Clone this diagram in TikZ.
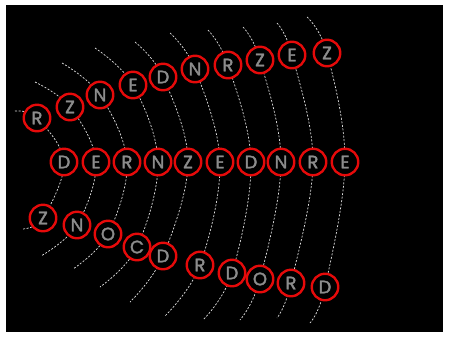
\documentclass[tikz,border=0pt]{standalone}
\usepackage{fontspec}
\newfontfamily\lettfont{Poppins}[FakeBold=2]
\pgfdeclarelayer{back}
\pgfdeclarelayer{bg}
\pgfsetlayers{back,bg,main}
\tikzset{
  lett/.style={circle, draw={rgb,255:red,230;green,10;blue,10}, line width=2.4pt, fill=black,
    minimum size=26.5pt, inner sep=0pt, text={rgb,255:red,140;green,140;blue,140}, font=\lettfont\fontsize{18}{18}\selectfont},
  trail/.style={draw=white!75!gray, line width=0.7pt, dash pattern=on 2pt off 1.6pt, smooth, tension=0.6}
}
\begin{document}
\begin{tikzpicture}[x=1pt,y=-1pt]
\useasboundingbox (0,0) rectangle (449,338);
\begin{pgfonlayer}{back}
\fill[white] (0,0) rectangle (449,338);
\fill[black] (6,5) rectangle (443,332);
\end{pgfonlayer}
% top row
\node[lett] (T1) at (37,118) {R};
\node[lett] (T2) at (70,107) {Z};
\node[lett] (T3) at (100,95) {N};
\node[lett] (T4) at (133,85) {E};
\node[lett] (T5) at (163,77) {D};
\node[lett] (T6) at (195,69) {N};
\node[lett] (T7) at (228,65) {R};
\node[lett] (T8) at (260,60) {Z};
\node[lett] (T9) at (292,55) {E};
\node[lett] (T10) at (327,53) {Z};
% middle row
\node[lett] (M1) at (64,162) {D};
\node[lett] (M2) at (96,162) {E};
\node[lett] (M3) at (127,162) {R};
\node[lett] (M4) at (158,162) {N};
\node[lett] (M5) at (188,162) {Z};
\node[lett] (M6) at (220,162) {E};
\node[lett] (M7) at (251,162) {D};
\node[lett] (M8) at (281,162) {N};
\node[lett] (M9) at (313,162) {R};
\node[lett] (M10) at (345,162) {E};
% bottom row
\node[lett] (B1) at (43,218) {Z};
\node[lett] (B2) at (77,225) {N};
\node[lett] (B3) at (108,234) {O};
\node[lett] (B4) at (137,247) {C};
\node[lett] (B5) at (163,256) {D};
\node[lett] (B6) at (200,265) {R};
\node[lett] (B7) at (232,273) {D};
\node[lett] (B8) at (260,279) {O};
\node[lett] (B9) at (291,283) {R};
\node[lett] (B10) at (325,287) {D};
% trail ends
\coordinate (S1) at (15,111);  \coordinate (E1) at (22,229);
\coordinate (S2) at (35,82);   \coordinate (E2) at (41,256);
\coordinate (S3) at (62,63);   \coordinate (E3) at (73,269);
\coordinate (S4) at (95,48);   \coordinate (E4) at (100,287);
\coordinate (S5) at (135,42);  \coordinate (E5) at (130,302);
\coordinate (S6) at (170,33);  \coordinate (E6) at (165,316);
\coordinate (S7) at (208,30);  \coordinate (E7) at (203,320);
\coordinate (S8) at (243,27);  \coordinate (E8) at (240,320);
\coordinate (S9) at (277,23);  \coordinate (E9) at (277,318);
\coordinate (S10) at (307,17); \coordinate (E10) at (310,323);
\begin{pgfonlayer}{bg}
\foreach \i in {1,...,10}{
  \draw[trail] plot coordinates {(S\i) (T\i.center) (M\i.center) (B\i.center) (E\i)};
}
\end{pgfonlayer}
\end{tikzpicture}
\end{document}
